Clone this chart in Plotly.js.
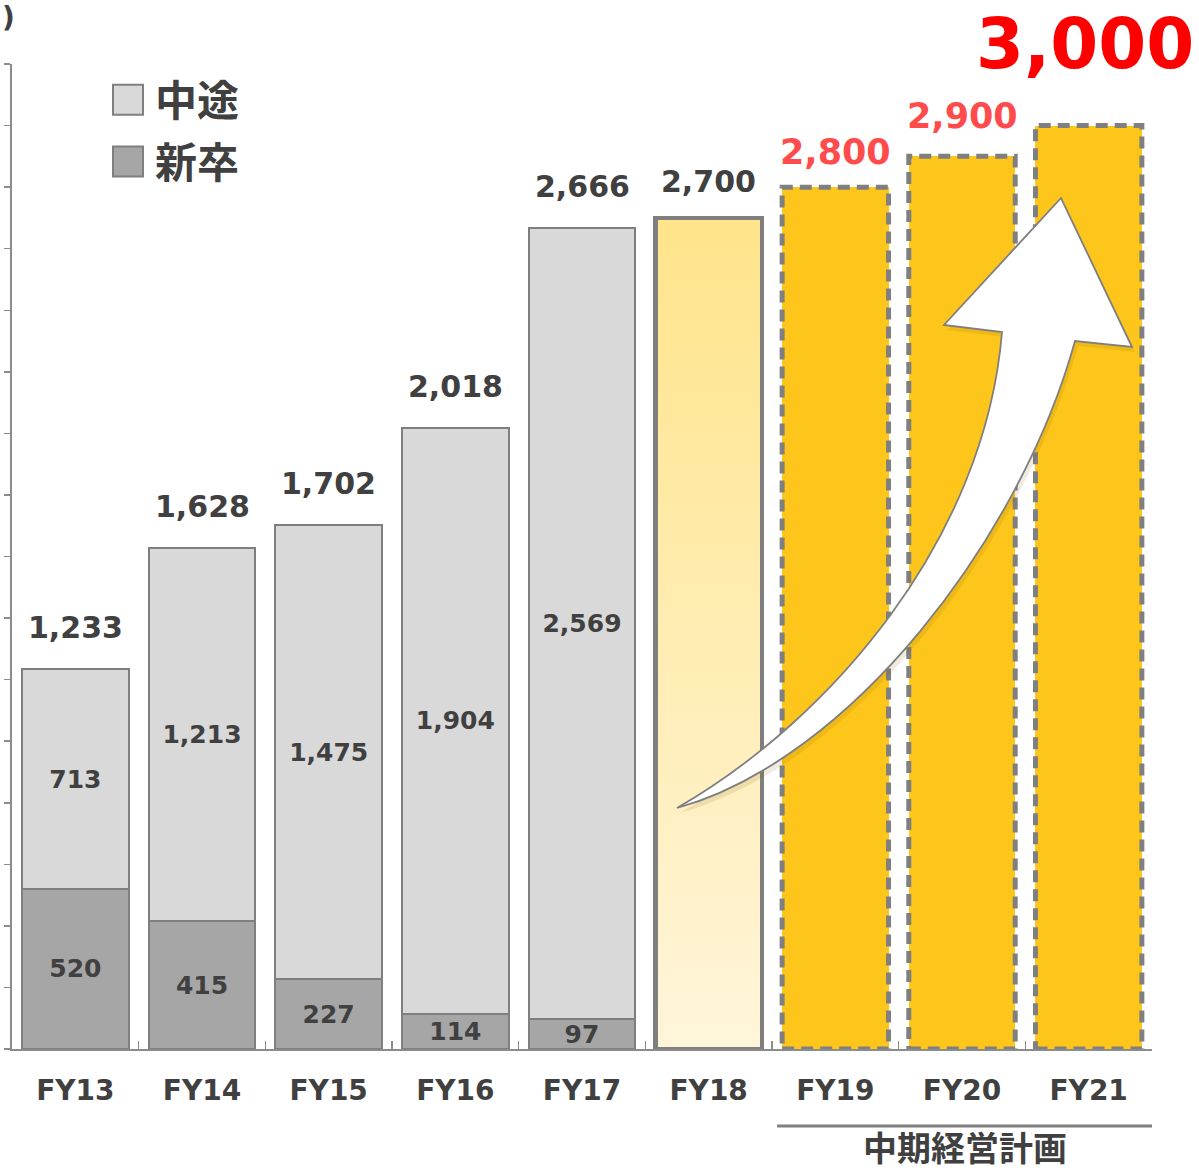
<!DOCTYPE html>
<html>
<head>
<meta charset="utf-8">
<script src="https://cdn.plot.ly/plotly-3.0.1.min.js"></script>
<style>
  html, body { margin: 0; padding: 0; background: #fff; }
  #chart { width: 1199px; height: 1171px; }
</style>
</head>
<body>
<div id="chart"></div>
<script>
// ---------- data ----------
const categories   = ['FY13', 'FY14', 'FY15', 'FY16', 'FY17', 'FY18', 'FY19', 'FY20', 'FY21'];
const actualCats   = ['FY13', 'FY14', 'FY15', 'FY16', 'FY17'];
const shinsotsu    = [520, 415, 227, 114, 97];          // 新卒
const chuto        = [713, 1213, 1475, 1904, 2569];     // 中途
const fy18Cat      = ['FY18'];
const fy18Value    = [2700];
const planCats     = ['FY19', 'FY20', 'FY21'];
const planValues   = [2800, 2900, 3000];
const seriesNames  = ['新卒', '中途'];
const planLabel    = '中期経営計画';
const unitLabel    = ')';   // only the closing bracket of the unit label is visible in the source

// ---------- styling ----------
const W = 1199, H = 1171;
const M = { l: 12, r: 47, t: 64, b: 122 };
const PW = W - M.l - M.r, PH = H - M.t - M.b;
const GAP = 0.16;
const HALF = (1 - GAP) / 2;
const dark = '#404040';
const grey = '#7F7F7F';
const FONT = 'DejaVu Sans, Verdana, sans-serif';
const CJK = 'Noto Sans CJK JP, Noto Sans, sans-serif';
const fmt = v => v.toLocaleString('en-US');

const traces = [
  {
    type: 'bar', name: seriesNames[0], x: actualCats, y: shinsotsu,
    legendgroup: 'b', legendrank: 2,
    marker: { color: '#A6A6A6', line: { color: grey, width: 2 } },
    text: shinsotsu.map(fmt), textposition: 'inside', insidetextanchor: 'middle',
    constraintext: 'none',
    insidetextfont: { family: FONT, size: 25, weight: 'bold', color: dark },
    hoverinfo: 'skip'
  },
  {
    type: 'bar', name: seriesNames[1], x: actualCats, y: chuto,
    legendgroup: 'a', legendrank: 1,
    marker: { color: '#D9D9D9', line: { color: grey, width: 2 } },
    text: chuto.map(fmt), textposition: 'inside', insidetextanchor: 'middle',
    constraintext: 'none',
    insidetextfont: { family: FONT, size: 25, weight: 'bold', color: dark },
    hoverinfo: 'skip'
  },
  {
    type: 'bar', name: 'FY18', x: fy18Cat, y: fy18Value, showlegend: false,
    marker: { color: '#FFEDB0', line: { color: grey, width: 4.5 } },
    hoverinfo: 'skip'
  },
  {
    type: 'bar', name: 'plan', x: planCats, y: planValues, showlegend: false,
    marker: { color: '#FEC61A', line: { color: '#FEC61A', width: 0 } },
    hoverinfo: 'skip'
  }
];

// totals above bars
const annotations = [];
actualCats.forEach((c, i) => {
  const tot = shinsotsu[i] + chuto[i];
  annotations.push({ x: c, y: tot, xref: 'x', yref: 'y', text: fmt(tot), showarrow: false,
    yanchor: 'bottom', yshift: 22, font: { family: FONT, size: 30, weight: 'bold', color: dark } });
});
annotations.push({ x: fy18Cat[0], y: fy18Value[0], xref: 'x', yref: 'y', text: fmt(fy18Value[0]), showarrow: false,
  yanchor: 'bottom', yshift: 17, font: { family: FONT, size: 30, weight: 'bold', color: dark } });
planValues.forEach((v, i) => {
  const big = i === planValues.length - 1;
  annotations.push({ x: planCats[i], y: v, xref: 'x', yref: 'y', text: fmt(v), showarrow: false,
    yanchor: 'bottom', yshift: big ? 40 : (i === 0 ? 13 : 18), xshift: big ? -4 : 0,
    font: { family: FONT, size: big ? 69 : 35, weight: 'bold', color: big ? '#FF0000' : '#FF4B4B' } });
});
// plan bracket label
annotations.push({ x: 7, y: -(1146 - 1049) / PH, xref: 'x', yref: 'paper', text: planLabel, showarrow: false,
  yanchor: 'middle', xshift: 3, font: { family: CJK, size: 34, weight: 'bold', color: dark } });
// unit label remnant at top-left
annotations.push({ x: 0, y: (1049 - 18) / PH, xref: 'paper', yref: 'paper', text: unitLabel, showarrow: false,
  xanchor: 'left', yanchor: 'middle', xshift: -M.l, font: { family: FONT, size: 28, weight: 'bold', color: dark } });

// shapes
const shapes = [];
planCats.forEach((c, i) => {
  const idx = categories.indexOf(c);
  shapes.push({ type: 'rect', xref: 'x', yref: 'y', x0: idx - HALF, x1: idx + HALF, y0: 0, y1: planValues[i],
    line: { color: grey, width: 5, dash: '12px,7px' }, fillcolor: 'rgba(0,0,0,0)', layer: 'above' });
});
// bracket line under FY19-FY21
shapes.push({ type: 'line', xref: 'x', yref: 'paper', x0: categories.indexOf(planCats[0]) - 0.46,
  x1: categories.indexOf(planCats[planCats.length - 1]) + 0.5,
  y0: -(1126 - 1049) / PH, y1: -(1126 - 1049) / PH, line: { color: grey, width: 3 } });

// decorative growth arrow (pixel outline converted to paper units)
const px = (x, y, dx = 0, dy = 0) => ((x + dx - M.l) / PW).toFixed(5) + ',' + ((M.t + PH - (y + dy)) / PH).toFixed(5);
function arrowPath(dx, dy) {
  const p = (x, y) => px(x, y, dx, dy);
  return 'M' + p(677, 808) +
    ' C' + p(830, 720) + ' ' + p(985, 540) + ' ' + p(1002, 332) +
    ' L' + p(944, 325) + ' L' + p(1061, 198) + ' L' + p(1132, 347) + ' L' + p(1075, 341) +
    ' C' + p(1020, 540) + ' ' + p(850, 760) + ' ' + p(677, 808) + ' Z';
}
shapes.push({ type: 'path', xref: 'paper', yref: 'paper', path: arrowPath(3, 5),
  fillcolor: 'rgba(120,90,0,0.12)', line: { width: 0 }, layer: 'above' });
shapes.push({ type: 'path', xref: 'paper', yref: 'paper', path: arrowPath(0, 0),
  fillcolor: '#FFFFFF', line: { color: grey, width: 1.8 }, layer: 'above' });

const layout = {
  width: W, height: H,
  margin: M,
  paper_bgcolor: '#FFFFFF', plot_bgcolor: '#FFFFFF',
  barmode: 'stack', bargap: GAP,
  showlegend: true,
  legend: {
    x: (101 - M.l) / PW, y: (M.t + PH - 66) / PH, xanchor: 'left', yanchor: 'top',
    traceorder: 'grouped', tracegroupgap: 4,
    itemwidth: 44,
    font: { family: CJK, size: 42, weight: 'bold', color: dark },
    bgcolor: 'rgba(0,0,0,0)'
  },
  xaxis: {
    type: 'category', categoryorder: 'array', categoryarray: categories,
    range: [-0.5, categories.length - 0.5],
    showline: true, linecolor: '#8C8C8C', linewidth: 2,
    ticks: 'inside', tickson: 'boundaries', ticklen: 8, tickcolor: '#8C8C8C', tickwidth: 1.5,
    tickfont: { family: FONT, size: 28, weight: 'bold', color: dark },
    ticklabelstandoff: 15,
    showgrid: false, zeroline: false, fixedrange: true
  },
  yaxis: {
    range: [0, 3200], dtick: 200, tick0: 0,
    showline: true, linecolor: '#8C8C8C', linewidth: 2,
    ticks: 'outside', ticklen: 6, tickcolor: '#8C8C8C', tickwidth: 1.5,
    showticklabels: false, showgrid: false, zeroline: false, fixedrange: true
  },
  annotations: annotations,
  shapes: shapes
};

Plotly.newPlot('chart', traces, layout, { staticPlot: true, displayModeBar: false }).then(gd => {
  const svg = gd.querySelector('.main-svg');
  const ns = 'http://www.w3.org/2000/svg';
  let defs = svg.querySelector('defs');
  if (!defs) { defs = document.createElementNS(ns, 'defs'); svg.insertBefore(defs, svg.firstChild); }
  const lg = document.createElementNS(ns, 'linearGradient');
  lg.setAttribute('id', 'fy18grad');
  lg.setAttribute('x1', '0'); lg.setAttribute('y1', '0'); lg.setAttribute('x2', '0'); lg.setAttribute('y2', '1');
  [['0', '#FFE48A'], ['1', '#FFF5DA']].forEach(([o, c]) => {
    const s = document.createElementNS(ns, 'stop');
    s.setAttribute('offset', o); s.setAttribute('stop-color', c);
    lg.appendChild(s);
  });
  defs.appendChild(lg);
  const barTraces = gd.querySelectorAll('.barlayer .trace');
  const fy18 = barTraces[2];
  if (fy18) fy18.querySelectorAll('path').forEach(p => { p.style.fill = 'url(#fy18grad)'; });
  // enlarge legend swatches
  gd.querySelectorAll('.legend .legendpoints path').forEach(p => {
    p.setAttribute('d', 'M15,15H-15V-15H15Z');
  });
});
</script>
</body>
</html>
